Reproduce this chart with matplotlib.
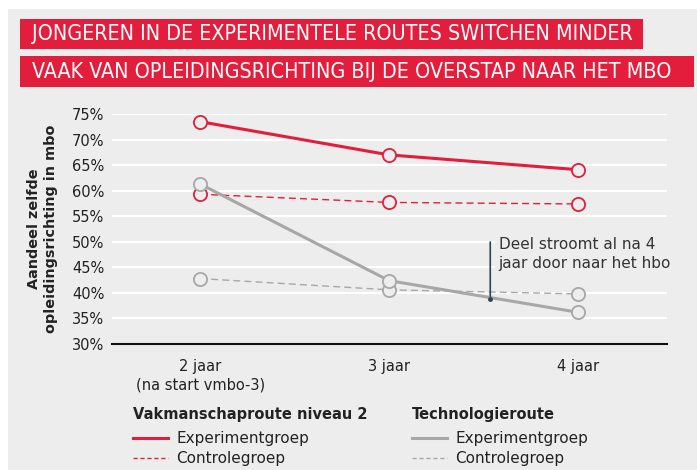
import matplotlib.pyplot as plt
from matplotlib.patches import Rectangle
from matplotlib.lines import Line2D

categories = ["2 jaar\n(na start vmbo-3)", "3 jaar", "4 jaar"]
vak_exp = [73.5, 67.0, 64.1]
vak_con = [59.3, 57.7, 57.4]
tech_exp = [61.3, 42.4, 36.2]
tech_con = [42.8, 40.6, 39.8]
yticks = [30, 35, 40, 45, 50, 55, 60, 65, 70, 75]

RED = "#e31d3c"
GREY = "#a7a7a9"
BG = "#ededed"
TXT = "#222222"

plt.rcParams['font.family'] = ['DejaVu Sans']

W, H = 697, 470
fig = plt.figure(figsize=(W / 100, H / 100), dpi=100)
fig.patch.set_facecolor("white")
fig.patches.append(Rectangle((8 / W, 0), 1, 1 - 9 / H, transform=fig.transFigure,
                             facecolor=BG, edgecolor="none", zorder=-2))


def title_box(x0, y0, x1, y1, text):
    fig.patches.append(Rectangle((x0 / W, 1 - y1 / H), (x1 - x0) / W, (y1 - y0) / H,
                                 transform=fig.transFigure, facecolor=RED,
                                 edgecolor="none", zorder=-1))
    fig.text(32 / W, 1 - (y0 + y1 + 1) / 2 / H, text, color="white", fontsize=15.4,
             family="DejaVu Sans", fontstretch="condensed", va="center", ha="left")


title_box(20, 19, 643, 49, "JONGEREN IN DE EXPERIMENTELE ROUTES SWITCHEN MINDER")
title_box(20, 56, 694, 87, "VAAK VAN OPLEIDINGSRICHTING BIJ DE OVERSTAP NAAR HET MBO")

ax = fig.add_axes([112 / W, 1 - 344 / H, 555 / W, 230 / H])
ax.set_facecolor(BG)
x = range(len(categories))

mk = dict(marker="o", markersize=9.5, markerfacecolor=BG, markeredgewidth=1.3, clip_on=False)
ax.plot(x, vak_exp, color=RED, lw=2.2, markeredgecolor=RED, zorder=5, **mk)
ax.plot(x, vak_con, color=RED, lw=1.0, ls=(0, (5, 3)), markeredgecolor=RED, zorder=4, **mk)
ax.plot(x, tech_con, color=GREY, lw=1.0, ls=(0, (5, 3)), markeredgecolor=GREY, zorder=4, **mk)
ax.plot(x, tech_exp, color=GREY, lw=2.2, markeredgecolor=GREY, zorder=5, **mk)

ax.set_xlim(-0.466, 2.47)
ax.set_ylim(30, 75)
ax.set_yticks(yticks)
ax.set_yticklabels([f"{v}%" for v in yticks])
ax.set_xticks(list(x))
ax.set_xticklabels(categories, linespacing=1.25)
ax.tick_params(length=0, labelsize=10.5, colors=TXT)
ax.tick_params(axis="x", pad=11)
ax.tick_params(axis="y", pad=5.5)
ax.grid(axis="y", color="white", lw=1.5, zorder=1)
ax.set_axisbelow(True)
for s in ["top", "right", "left"]:
    ax.spines[s].set_visible(False)
ax.spines["bottom"].set_color("#111111")
ax.spines["bottom"].set_linewidth(1.5)
ax.spines["bottom"].set_zorder(3)

ax.set_ylabel("Aandeel zelfde\nopleidingsrichting in mbo", fontsize=10.4, fontweight="bold",
              color=TXT, linespacing=1.3, labelpad=10)

# annotation
ax.annotate("", xy=(1.535, 38.8), xytext=(1.535, 50.5),
            arrowprops=dict(arrowstyle="-", color="#2f4550", lw=1.2), zorder=6)
ax.plot([1.535], [38.8], "o", color="#2f4550", markersize=2.5, zorder=6)
ax.text(1.58, 50.9, "Deel stroomt al na 4\njaar door naar het hbo", fontsize=11,
        color="#333333", va="top", ha="left", linespacing=1.3, zorder=6,
        bbox=dict(facecolor=BG, edgecolor="none", pad=3))

# legends
handles1 = [Line2D([], [], color=RED, lw=2.2), Line2D([], [], color=RED, lw=1.0, ls=(0, (3, 2)))]
handles2 = [Line2D([], [], color=GREY, lw=2.2), Line2D([], [], color=GREY, lw=1.0, ls=(0, (3, 2)))]
labels = ["Experimentgroep", "Controlegroep"]
for handles, title, xpos in [(handles1, "Vakmanschaproute niveau 2", 133),
                             (handles2, "Technologieroute", 412)]:
    fig.text(xpos / W, 1 - 415 / H, title, fontsize=10.5, fontweight="bold",
             color=TXT, va="center", ha="left")
    leg = fig.legend(handles, labels, loc="upper left",
                     bbox_to_anchor=(xpos / W, 1 - 431 / H), frameon=False,
                     fontsize=11, handlelength=2.3, handletextpad=0.55,
                     borderaxespad=0, borderpad=0, labelspacing=0.35)
    for t in leg.get_texts():
        t.set_color(TXT)

fig.savefig("out.png", dpi=100, facecolor=fig.get_facecolor())
